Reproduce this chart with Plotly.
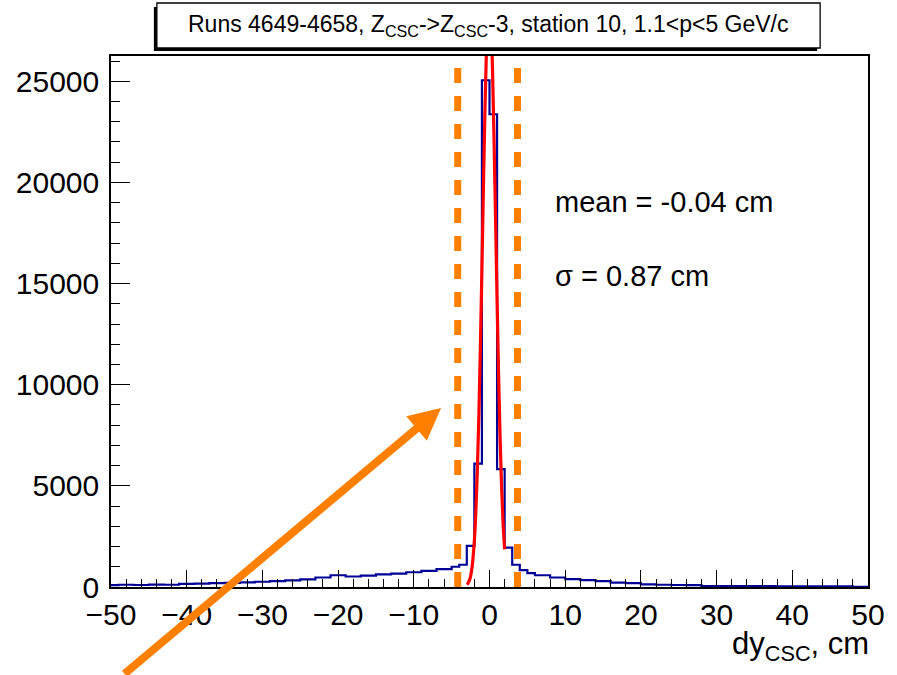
import plotly.graph_objects as go

# ---------------- data ----------------
bin_edges = [-50, -49, -47, -45, -43, -41, -39, -37, -35, -33, -31, -29, -27, -25, -23,
             -21, -19, -17, -15, -13, -11, -9, -7, -5, -4, -3, -2, -1, 0, 1, 2, 3, 4,
             5, 6, 8, 10, 12, 14, 16, 18, 20, 22, 24, 26, 28, 30, 32, 34, 36, 38, 40,
             42, 44, 46, 48, 50]
bin_counts = [90, 110, 100, 120, 110, 150, 170, 190, 200, 230, 260, 290, 330, 380,
              470, 580, 520, 560, 620, 660, 730, 800, 880, 1000, 1100, 2030, 6100,
              25050, 23370, 5830, 1950, 1100, 830, 690, 580, 470, 390, 340, 290, 220,
              190, 130, 110, 100, 90, 50, 45, 40, 40, 40, 35, 35, 35, 30, 30, 10]

fit_x = [-2.95, -2.6, -2.3, -2.0, -1.8, -1.6, -1.4, -1.2, -1.0, -0.8, -0.6, -0.4,
         -0.2, -0.04, 0.2, 0.4, 0.6, 0.8, 1.0, 1.2, 1.4, 1.6, 1.8, 2.0]
fit_y = [110, 380, 990, 2290, 3750, 5810, 8540, 11920, 15780, 19800, 23570, 26620,
         28510, 29000, 27920, 25520, 22120, 18200, 14190, 10500, 7370, 4910, 3100, 1860]

cut_lines = [-4.2, 3.7]
arrow_tip = (-6.4, 8850)

title_text = "Runs 4649-4658, Z<sub>CSC</sub>->Z<sub>CSC</sub>-3, station 10, 1.1<p<5 GeV/c"
mean_text = "mean = -0.04 cm"
sigma_text = "σ = 0.87 cm"
xtitle_text = "dy<sub>CSC</sub>, cm"

x_range = [-50, 50]
y_range = [0, 26250]

# ---------------- layout geometry ----------------
W, H = 897, 675
L, R, T, B = 111, 870, 56, 587

def px(xp):
    return (xp - L) / (R - L)

def py(yp):
    return (B - yp) / (B - T)

FONT = "Liberation Sans, Arial, Helvetica, sans-serif"

fig = go.Figure()

fig.add_trace(go.Scatter(
    x=bin_edges, y=bin_counts + [bin_counts[-1]],
    mode="lines", line=dict(color="#000096", width=2.2, shape="hv"),
    hoverinfo="skip", showlegend=False))

fig.add_trace(go.Scatter(
    x=fit_x, y=fit_y, mode="lines", line=dict(color="#FF0000", width=3.2, shape="spline"),
    hoverinfo="skip", showlegend=False))

shapes = []
for cx in cut_lines:
    shapes.append(dict(type="line", xref="x", yref="paper", x0=cx, x1=cx,
                       y0=0, y1=py(62), layer="above",
                       line=dict(color="#FF8000", width=7, dash="15px,13px")))

# title box with shadow
shapes.append(dict(type="rect", xref="paper", yref="paper",
                   x0=px(154), x1=px(819), y0=py(51), y1=py(7),
                   fillcolor="black", line=dict(width=0), layer="above"))
shapes.append(dict(type="rect", xref="paper", yref="paper",
                   x0=px(157), x1=px(822), y0=py(48), y1=py(3),
                   fillcolor="white", line=dict(color="black", width=1.3), layer="above"))

annotations = [
    dict(text=title_text, xref="paper", yref="paper", x=px(489), y=py(25),
         xanchor="center", yanchor="middle", showarrow=False,
         font=dict(family=FONT, size=23, color="black")),
    dict(text=mean_text, xref="paper", yref="paper", x=px(554), y=py(202),
         xanchor="left", yanchor="middle", showarrow=False,
         font=dict(family=FONT, size=29, color="black")),
    dict(text=sigma_text, xref="paper", yref="paper", x=px(554), y=py(276),
         xanchor="left", yanchor="middle", showarrow=False,
         font=dict(family=FONT, size=29, color="black")),
    dict(text=xtitle_text, xref="paper", yref="paper", x=px(873), y=py(624),
         xanchor="right", yanchor="top", showarrow=False,
         font=dict(family=FONT, size=31, color="black")),
    dict(text="", x=arrow_tip[0], y=arrow_tip[1], xref="x", yref="y",
         showarrow=True, ax=-318, ay=270, arrowcolor="#FF8000",
         arrowwidth=8, arrowhead=2, arrowsize=0.8, standoff=0),
]

fig.update_layout(
    width=W, height=H,
    margin=dict(l=L, r=W - R, t=T, b=H - B),
    paper_bgcolor="white", plot_bgcolor="white",
    shapes=shapes, annotations=annotations,
    showlegend=False, hovermode=False,
    font=dict(family=FONT, color="black"),
)

fig.update_xaxes(
    range=x_range, dtick=10, tick0=-50, ticks="inside", ticklen=17, tickwidth=1.3,
    tickcolor="black", showline=True, linecolor="black", linewidth=1.5, mirror=True,
    showgrid=False, zeroline=False, ticklabelstandoff=0,
    tickfont=dict(family=FONT, size=30, color="black"),
    minor=dict(dtick=2, ticks="inside", ticklen=8, tickwidth=1.2, tickcolor="black",
               showgrid=False))

fig.update_yaxes(
    range=y_range, dtick=5000, tick0=0, ticks="inside", ticklen=19, tickwidth=1.3,
    tickcolor="black", showline=True, linecolor="black", linewidth=1.5, mirror=True,
    showgrid=False, zeroline=False, ticklabelstandoff=4, tickformat="d",
    tickfont=dict(family=FONT, size=30, color="black"),
    minor=dict(dtick=1000, ticks="inside", ticklen=9, tickwidth=1.2, tickcolor="black",
               showgrid=False))

fig.write_html("out.html", config={"displayModeBar": False})
